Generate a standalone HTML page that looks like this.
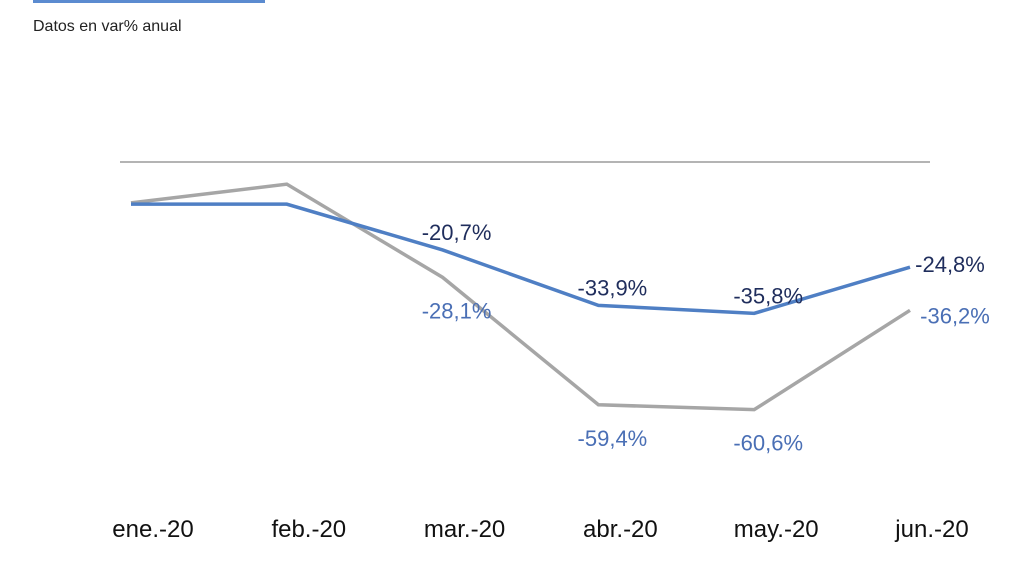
<!DOCTYPE html>
<html><head><meta charset="utf-8"><style>
html,body{margin:0;padding:0;background:#fff;}
svg{display:block;font-family:"Liberation Sans",Arial,sans-serif;}
</style></head><body>
<svg id="c" width="1024" height="576" viewBox="0 0 1024 576">
<rect x="33" y="0" width="232" height="3" fill="#5b8bd0"/>
<text x="33" y="31" font-size="16" fill="#222">Datos en var% anual</text>
<line x1="120" y1="162" x2="930" y2="162" stroke="#888" stroke-width="1.2"/>
<g id="g"></g>
</svg>
<script>
const categories=["ene.-20","feb.-20","mar.-20","abr.-20","may.-20","jun.-20"];
const blueValues=[-9.8,-9.8,-20.7,-33.9,-35.8,-24.8];
const grayValues=[-9.8,-5.2,-28.1,-59.4,-60.6,-36.2];
const blueLabels=[null,null,"-20,7%","-33,9%","-35,8%","-24,8%"];
const grayLabels=[null,null,"-28,1%","-59,4%","-60,6%","-36,2%"];
const NS="http://www.w3.org/2000/svg";
const g=document.getElementById('g');
function x(i){return 131+i*155.8;}
function yB(v){return 163-v*4.2;}
function yG(v){return 163-v*4.07;}
function mk(t,a){const e=document.createElementNS(NS,t);for(const k in a)e.setAttribute(k,a[k]);g.appendChild(e);return e;}
let e;
e=mk('polyline',{points:grayValues.map((v,i)=>x(i)+','+yG(v)).join(' '),fill:'none',stroke:'#a6a6a6','stroke-width':3.5});


e=mk('polyline',{points:blueValues.map((v,i)=>x(i)+','+yB(v)).join(' '),fill:'none',stroke:'#4f7fc4','stroke-width':3.5});


categories.forEach((c,i)=>{
  const t=mk('text',{x:x(i)+22,y:537,'font-size':24,'text-anchor':'middle',fill:'#111'});
  t.textContent=c;
  
  
  const isLast=i===categories.length-1;
  if(blueLabels[i]){
    const b=mk('text',{x:isLast?x(i)+40:x(i)+14,y:isLast?yB(blueValues[i])+5:yB(blueValues[i])-10,'font-size':22,'text-anchor':'middle',fill:'#1f2d5c'});
    b.textContent=blueLabels[i];
    
    
  }
  if(grayLabels[i]){
    const gy=isLast?yG(grayValues[i])+13:yG(grayValues[i])+41;
    const gl=mk('text',{x:isLast?x(i)+45:x(i)+14,y:gy,'font-size':22,'text-anchor':'middle',fill:'#4a6fb5'});
    gl.textContent=grayLabels[i];
    
    
  }
});
</script>
</body></html>
